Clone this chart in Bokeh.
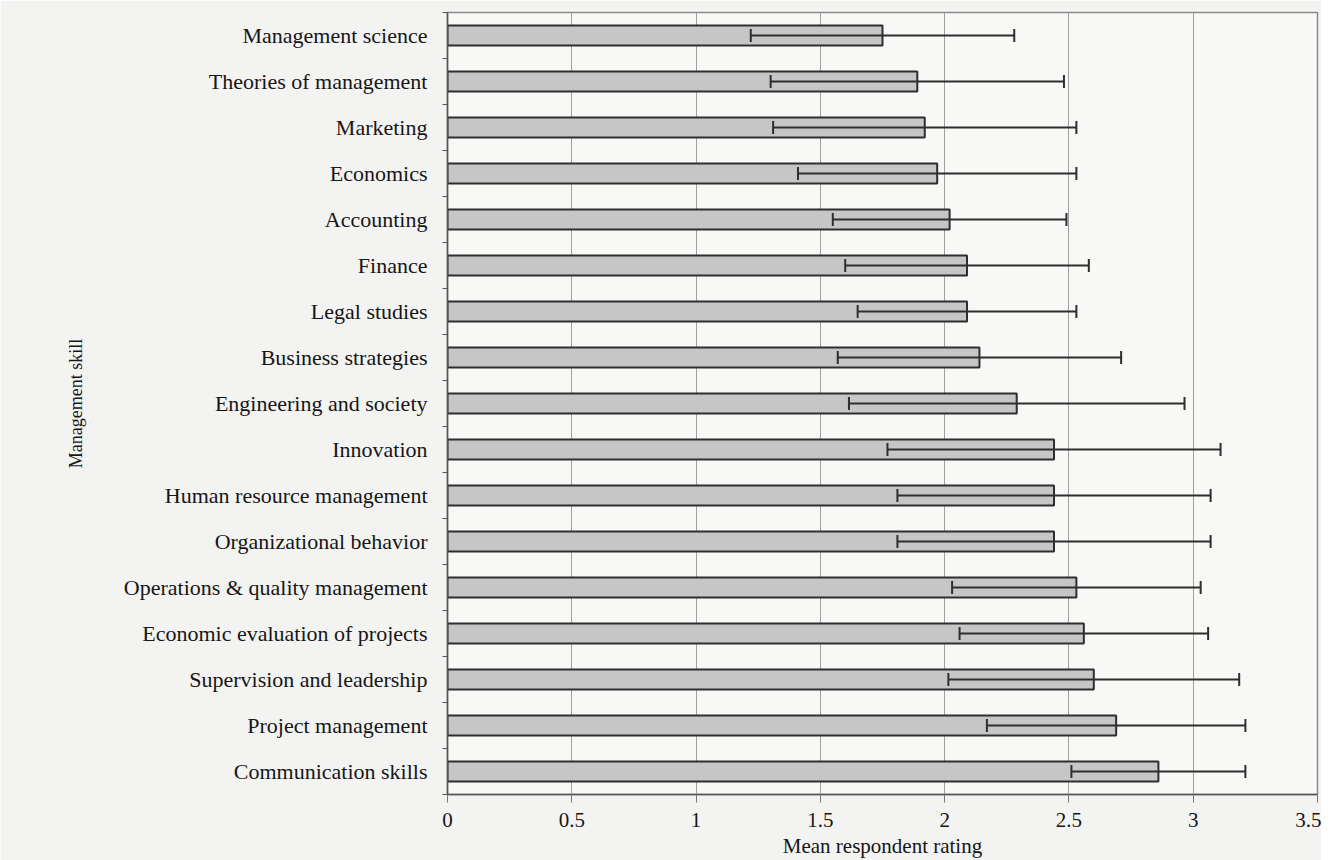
from bokeh.plotting import figure
from bokeh.models import (ColumnDataSource, Range1d, LinearAxis, FixedTicker, Whisker, TeeHead)
from bokeh.embed import file_html
from bokeh.resources import INLINE

# ---- data (top to bottom as in the chart) ----
skills = [
    "Management science", "Theories of management", "Marketing", "Economics",
    "Accounting", "Finance", "Legal studies", "Business strategies",
    "Engineering and society", "Innovation", "Human resource management",
    "Organizational behavior", "Operations & quality management",
    "Economic evaluation of projects", "Supervision and leadership",
    "Project management", "Communication skills",
]
mean_rating = [1.75, 1.89, 1.92, 1.97, 2.02, 2.09, 2.09, 2.14, 2.29, 2.44, 2.44,
               2.44, 2.53, 2.56, 2.60, 2.69, 2.86]
std_dev = [0.53, 0.59, 0.61, 0.56, 0.47, 0.49, 0.44, 0.57, 0.675, 0.67, 0.63,
           0.63, 0.50, 0.50, 0.585, 0.52, 0.35]
x_ticks = [0, 0.5, 1, 1.5, 2, 2.5, 3, 3.5]

FONT = "Liberation Serif"
INK = "#2e2e2e"
TXT = "#161616"

n = len(skills)
slot = [n - 0.5 - i for i in range(n)]   # category slot centres, first at top

source = ColumnDataSource(dict(
    skill=skills,
    pos=slot,
    mean=mean_rating,
    lower=[m - s for m, s in zip(mean_rating, std_dev)],
    upper=[m + s for m, s in zip(mean_rating, std_dev)],
))

p = figure(width=1321, height=844, output_backend="svg", toolbar_location=None,
           y_range=Range1d(0, n), x_range=Range1d(0, 3.5), y_axis_location=None,
           frame_width=870, frame_height=782,
           min_border_left=447, min_border_right=4, min_border_top=12, min_border_bottom=50)

p.background_fill_color = "#f8f8f7"
p.border_fill_color = "#f3f3f2"
p.outline_line_color = "#8a8a8a"
p.outline_line_width = 1.5

p.hbar(y="pos", right="mean", left=0, height=0.44, source=source,
       fill_color="#c6c6c6", line_color=INK, line_width=2)

w = Whisker(base="pos", lower="lower", upper="upper", dimension="width", source=source,
            level="annotation", line_color=INK, line_width=2,
            lower_head=TeeHead(size=13, line_color=INK, line_width=2),
            upper_head=TeeHead(size=13, line_color=INK, line_width=2))
p.add_layout(w)

# x axis
xa = p.xaxis[0]
xa.ticker = FixedTicker(ticks=x_ticks)
xa.axis_label = "Mean respondent rating"
xa.axis_label_text_font = FONT
xa.axis_label_text_font_style = "normal"
xa.axis_label_text_font_size = "21px"
xa.axis_label_text_color = TXT
xa.axis_label_standoff = 4
xa.major_label_text_font = FONT
xa.major_label_text_font_size = "21px"
xa.major_label_text_color = TXT
xa.major_label_standoff = 10
xa.major_tick_out = 8
xa.major_tick_in = 0
xa.minor_tick_out = 0
xa.minor_tick_in = 0
xa.axis_line_color = "#555555"
xa.axis_line_width = 1.5
xa.major_tick_line_color = "#777777"

p.xgrid.ticker = FixedTicker(ticks=x_ticks)
p.xgrid.grid_line_color = "#a0a0a0"
p.xgrid.grid_line_width = 1
p.ygrid.grid_line_color = None

# y axis: names at slot centres, short ticks between the slots
ya = LinearAxis(ticker=FixedTicker(ticks=slot, minor_ticks=list(range(n + 1))),
                major_label_overrides={s: name for s, name in zip(slot, skills)},
                axis_label="Management skill", axis_label_text_font=FONT,
                axis_label_text_font_style="normal", axis_label_text_font_size="18px",
                axis_label_text_color=TXT, axis_label_standoff=35,
                major_label_text_font=FONT, major_label_text_font_size="22px",
                major_label_text_color=TXT, major_label_standoff=15,
                major_tick_out=0, major_tick_in=0, minor_tick_out=5, minor_tick_in=0,
                major_tick_line_color=None, minor_tick_line_color="#555555",
                axis_line_color="#555555", axis_line_width=1.5)
p.add_layout(ya, "left")

open("out.html", "w").write(file_html(p, INLINE))
